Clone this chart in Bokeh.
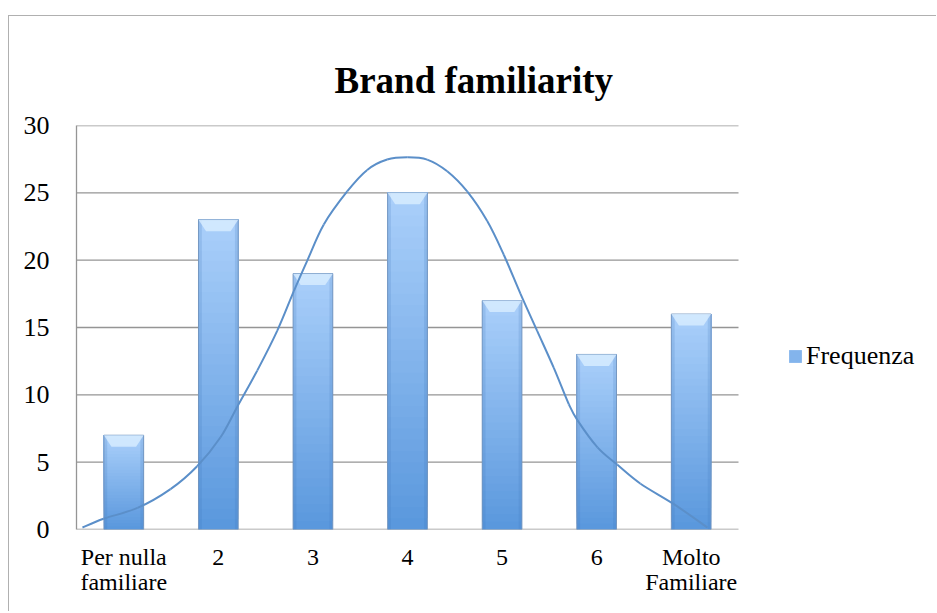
from bokeh.plotting import figure
from bokeh.models import Range1d, FixedTicker, Legend, LegendItem
from bokeh.embed import file_html
from bokeh.resources import INLINE

# ---- data ----
categories = ["Per nulla\nfamiliare", "2", "3", "4", "5", "6", "Molto\nFamiliare"]
frequenza = [7, 23, 19, 25, 17, 13, 16]
y_ticks = [0, 5, 10, 15, 20, 25, 30]

# smooth distribution curve (x in category slots, 0..7)
curve_x = [0.063, 0.286, 0.645, 0.994, 1.276, 1.523, 1.699, 1.911, 2.122, 2.298,
           2.439, 2.615, 2.862, 3.074, 3.285, 3.497, 3.708, 3.920, 4.131, 4.343,
           4.518, 4.695, 4.871, 5.047, 5.206, 5.298, 5.509, 5.720, 5.964, 6.313,
           6.672]
curve_y = [0.15, 0.8, 1.6, 3.0, 4.7, 6.85, 9.1, 11.8, 14.75, 17.7,
           19.95, 22.65, 25.1, 26.7, 27.47, 27.64, 27.47, 26.6, 25.1, 22.9,
           20.4, 17.5, 14.75, 12.0, 9.3, 8.1, 6.1, 4.8, 3.4, 1.9,
           0.15]

FONT = "Liberation Serif"
n_cat = len(categories)
# the frame also spans the legend area on the right; the plotted area is 0..n_cat
x_end = n_cat * 861 / 662

p = figure(width=928, height=596, output_backend="svg", toolbar_location=None,
           x_range=Range1d(0, x_end), y_range=Range1d(0, 30),
           min_border_left=67, min_border_right=0, min_border_top=109,
           min_border_bottom=83, tools="")
p.margin = (15, 0, 0, 8)
p.styles = {"border-top": "1px solid #b0b0b0", "border-left": "1px solid #b0b0b0"}
p.outline_line_color = None
p.background_fill_color = "white"
p.border_fill_color = "white"

# title
p.title.text = "Brand familiarity"
p.title.text_font = FONT
p.title.text_font_style = "bold"
p.title.text_font_size = "37px"
p.title.align = "left"
p.title.offset = 258
p.title.standoff = 50
p.title.text_color = "black"

# grid lines only across the category area
p.xgrid.grid_line_color = None
p.ygrid.grid_line_color = None
p.segment(x0=[0] * len(y_ticks), x1=[n_cat] * len(y_ticks), y0=y_ticks, y1=y_ticks,
          line_color="#959595", line_width=1.3)

p.yaxis.ticker = FixedTicker(ticks=y_ticks)
p.yaxis.axis_line_color = "#959595"
p.yaxis.axis_line_width = 1.3
p.yaxis.major_tick_line_color = None
p.yaxis.minor_tick_line_color = None
p.yaxis.major_label_standoff = 21
p.yaxis.major_label_text_font = FONT
p.yaxis.major_label_text_font_size = "26px"
p.yaxis.major_label_text_color = "black"

centers = [i + 0.5 for i in range(n_cat)]
p.xaxis.ticker = FixedTicker(ticks=centers)
p.xaxis.major_label_overrides = {c: lab for c, lab in zip(centers, categories)}
p.xaxis.axis_line_color = None
p.xaxis.major_tick_line_color = None
p.xaxis.minor_tick_line_color = None
p.xaxis.major_label_standoff = 8
p.xaxis.major_label_text_font = FONT
p.xaxis.major_label_text_font_size = "24px"
p.xaxis.major_label_text_color = "black"
p.xaxis.major_label_text_line_height = 0.98

# bars with a vertical gradient (overlapping slices of each bar's own height)
bar_w = 0.42
N = 30
c0 = (0x59, 0x97, 0xdd)  # bottom
c1 = (0xab, 0xd0, 0xfa)  # top
mid = None
for k in range(N):
    t = (k + 0.5) / N
    col = "#%02x%02x%02x" % tuple(int(round(a + (b - a) * t)) for a, b in zip(c0, c1))
    bots = [v * k / N for v in frequenza]
    r = p.vbar(x=centers, width=bar_w, bottom=bots, top=frequenza,
               fill_color=col, line_color=None)
    if k == N // 2:
        mid = r

# slightly darker sides of each bar
side_w = 0.035
p.vbar(x=[c - bar_w / 2 + side_w / 2 for c in centers], width=side_w, bottom=0,
       top=frequenza, fill_color="#3f74b8", fill_alpha=0.18, line_color=None)
p.vbar(x=[c + bar_w / 2 - side_w / 2 for c in centers], width=side_w, bottom=0,
       top=frequenza, fill_color="#3f74b8", fill_alpha=0.18, line_color=None)

# outline of each bar
p.vbar(x=centers, width=bar_w, bottom=0, top=frequenza, fill_color=None,
       line_color="#7294bd", line_width=1, line_alpha=0.9)

# bevel highlight on top of each bar
bev_h = 0.85
bev_d = 0.08
xs, ys = [], []
for c, v in zip(centers, frequenza):
    xs.append([c - bar_w / 2, c + bar_w / 2, c + bar_w / 2 - bev_d, c - bar_w / 2 + bev_d])
    ys.append([v, v, v - bev_h, v - bev_h])
p.patches(xs, ys, fill_color="#d9edff", fill_alpha=0.8, line_color=None)

# distribution curve, drawn as smooth Bezier segments through the read points
x0, y0, x1, y1, cx0, cy0, cx1, cy1 = [], [], [], [], [], [], [], []
n = len(curve_x)
for i in range(n - 1):
    pa = (curve_x[max(i - 1, 0)], curve_y[max(i - 1, 0)])
    pb = (curve_x[i], curve_y[i])
    pc = (curve_x[i + 1], curve_y[i + 1])
    pd = (curve_x[min(i + 2, n - 1)], curve_y[min(i + 2, n - 1)])
    x0.append(pb[0]); y0.append(pb[1]); x1.append(pc[0]); y1.append(pc[1])
    cx0.append(pb[0] + (pc[0] - pa[0]) / 6); cy0.append(pb[1] + (pc[1] - pa[1]) / 6)
    cx1.append(pc[0] - (pd[0] - pb[0]) / 6); cy1.append(pc[1] - (pd[1] - pb[1]) / 6)
p.bezier(x0=x0, y0=y0, x1=x1, y1=y1, cx0=cx0, cy0=cy0, cx1=cx1, cy1=cy1,
         line_color="#5b8fc9", line_width=2)

legend = Legend(items=[LegendItem(label="Frequenza", renderers=[mid])],
                location=(711, 158), orientation="vertical")
legend.label_text_font = FONT
legend.label_text_font_size = "26px"
legend.label_text_color = "black"
legend.glyph_width = 16
legend.glyph_height = 16
legend.label_standoff = 3
legend.padding = 0
legend.margin = 0
legend.border_line_color = None
legend.background_fill_alpha = 0
p.add_layout(legend, "center")

open("out.html", "w").write(file_html(p, INLINE))
